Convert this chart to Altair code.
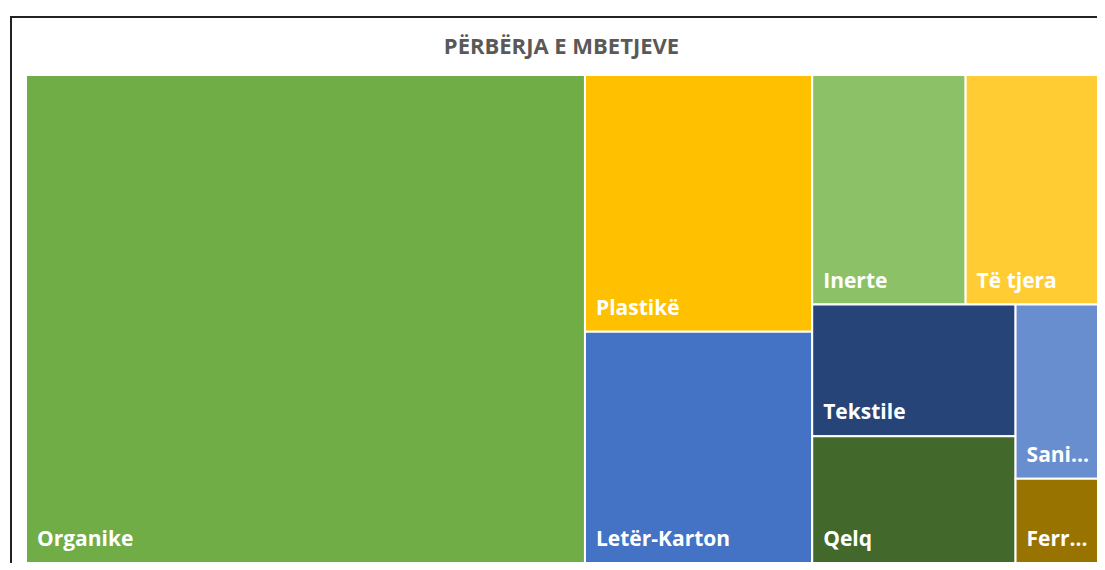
import altair as alt
import pandas as pd

# Data (percent share of waste composition)
categories = ["Organike", "Plastikë", "Letër-Karton", "Inerte", "Të tjera",
              "Tekstile", "Qelq", "Sani...", "Ferr..."]
values = [51.9, 11.1, 10.0, 6.7, 6.0, 5.1, 4.9, 2.9, 1.4]
colors = ["#70AD47", "#FFC000", "#4472C4", "#8CC168", "#FFCD33",
          "#264478", "#43682B", "#698ED0", "#997300"]

W, H = 1077, 488   # treemap layout space (full plot area of the original)
VISIBLE_W = 1071   # part of it that fits in the window


def worst(row, side):
    s = sum(row)
    return max(max(side * side * r / (s * s), (s * s) / (side * side * r)) for r in row)


def squarify(areas, x, y, w, h):
    rects = []
    areas = list(areas)
    while areas:
        side = min(w, h)
        row = [areas[0]]
        i = 1
        while i < len(areas) and worst(row + [areas[i]], side) <= worst(row, side):
            row.append(areas[i])
            i += 1
        s = sum(row)
        if w >= h:
            cw = s / h
            yy = y
            for a in row:
                rh = a / cw
                rects.append((x, yy, x + cw, yy + rh))
                yy += rh
            x += cw
            w -= cw
        else:
            rh = s / w
            xx = x
            for a in row:
                cw = a / rh
                rects.append((xx, y, xx + cw, y + rh))
                xx += cw
            y += rh
            h -= rh
        areas = areas[i:]
    return rects


total = sum(values)
areas = [v / total * W * H for v in values]
rects = squarify(areas, 0, 0, W, H)

df = pd.DataFrame({
    "name": categories,
    "value": values,
    "color": colors,
    "x0": [r[0] for r in rects],
    "y0": [r[1] for r in rects],
    "x1": [r[2] for r in rects],
    "y1": [r[3] for r in rects],
})

xs = alt.Scale(domain=[0, VISIBLE_W], nice=False, zero=False)
ys = alt.Scale(domain=[0, H], nice=False, zero=False, reverse=True)

base = alt.Chart(df)

cells = base.mark_rect(stroke="white", strokeWidth=2, clip=True).encode(
    x=alt.X("x0:Q", scale=xs, axis=None),
    x2="x1:Q",
    y=alt.Y("y0:Q", scale=ys, axis=None),
    y2="y1:Q",
    color=alt.Color("color:N", scale=None, legend=None),
    tooltip=["name:N", "value:Q"],
)

labels = base.mark_text(
    align="left", baseline="alphabetic", dx=11, dy=-17,
    font="Open Sans", fontWeight="bold", fontSize=21, color="white",
).encode(
    x=alt.X("x0:Q", scale=xs, axis=None),
    y=alt.Y("y1:Q", scale=ys, axis=None),
    text="name:N",
)

frame = alt.Chart(pd.DataFrame({"k": [0]})).mark_rect(
    fill=None, stroke="#222222", strokeWidth=2
).encode(
    x=alt.value(-15), x2=alt.value(1100),
    y=alt.value(-58), y2=alt.value(560),
)

chart = alt.layer(frame, cells, labels).properties(
    width=VISIBLE_W, height=H,
    title=alt.TitleParams(
        "PËRBËRJA E MBETJEVE", font="Open Sans", fontSize=22, fontWeight="bold",
        color="#595959", anchor="middle", baseline="alphabetic", offset=-60,
        frame="group",
    ),
    padding={"left": 18, "top": 67, "right": 0, "bottom": 0},
    autosize=alt.AutoSizeParams(type="none"),
).configure_view(stroke=None).configure(background="white")

chart.save("out.html", embed_options={"renderer": "svg", "actions": False})
